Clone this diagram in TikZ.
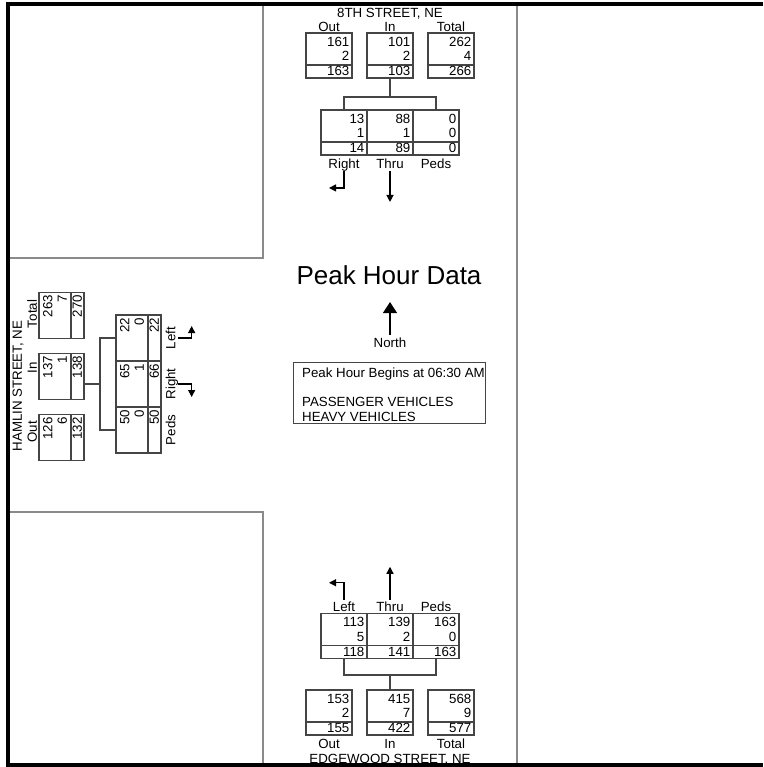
\documentclass[tikz,border=0pt]{standalone}
\usepackage{fontspec}
\setmainfont{Liberation Sans}
\usepackage{tikz}
\usetikzlibrary{arrows.meta}
\definecolor{framec}{HTML}{000000}
\definecolor{roadc}{HTML}{8A8A8A}
\definecolor{boxc}{HTML}{454545}
\newcommand{\cntfont}{\fontsize{13.3}{14.5}\selectfont}
% count box: name, x, y, angle, three values
\newcommand{\cntbox}[7]{%
  \begin{scope}[shift={(#2,#3)},rotate=#4,transform shape]
    \node[cbox] (#1) at (0,0) {};
    \draw[link] (-23,9.5) -- (23,9.5);
    \node[val] (#1a) at (20.5,-14) {#5};
    \node[val] (#1b) at (20.5,0.5) {#6};
    \node[val] (#1c) at (20.5,15.5) {#7};
  \end{scope}}
\tikzset{
  cbox/.style={draw=boxc,line width=1.2pt,minimum width=46pt,minimum height=45pt,inner sep=0pt},
  val/.style={anchor=east,inner sep=0pt,text height=9.5pt,text depth=0pt,font=\cntfont},
  lbl/.style={inner sep=0pt,text height=9.5pt,text depth=0pt,font=\cntfont},
  link/.style={draw=boxc,line width=1.2pt},
  road/.style={draw=roadc,line width=2pt},
  turn/.style={draw=black,line width=1.2pt,-{Triangle[width=7pt,length=7pt]}},
  northarrow/.style={draw=black,line width=1.3pt,-{Triangle[width=14pt,length=11pt]}}
}

\begin{document}
\begin{tikzpicture}[x=1pt,y=-1pt]
  \fill[white] (0,0) rectangle (763,767);
  \useasboundingbox (0,0) rectangle (763,767);

  % frame and roads
  \draw[framec,line width=4pt] (763,3.7) -- (8,3.7) -- (8,765) -- (763,765);
  \draw[road] (263,5.7) -- (263,258) -- (10,258);
  \draw[road] (10,512) -- (263,512) -- (263,763);
  \draw[road] (517,5.7) -- (517,763);

  % 8th street
  \node[lbl] (tName) at (390,12.5) {8TH STREET, NE};
  \node[lbl] (tOutL) at (329,27) {Out};
  \node[lbl] (tInL) at (390,27) {In};
  \node[lbl] (tTotL) at (451,27) {Total};
  \cntbox{tOut}{329}{55.5}{0}{161}{2}{163}
  \cntbox{tIn}{390}{55.5}{0}{101}{2}{103}
  \cntbox{tTot}{451}{55.5}{0}{262}{4}{266}
  \cntbox{tR}{344}{132.5}{0}{13}{1}{14}
  \cntbox{tT}{390}{132.5}{0}{88}{1}{89}
  \cntbox{tP}{436}{132.5}{0}{0}{0}{0}
  \node[lbl] (tRL) at (344,164) {Right};
  \node[lbl] (tTL) at (390,164) {Thru};
  \node[lbl] (tPL) at (436,164) {Peds};
  \coordinate (tj) at (390,97);
  \draw[link] (tIn.south) -- (tj);
  \draw[link] (tR.north) |- (tj) -| (tP.north);
  \draw[turn] ([yshift=-2pt]tRL.south) -- ++(0,17) -- ++(-15,0);
  \draw[turn] ([yshift=-2pt]tTL.south) -- ++(0,31);

  % hamlin street
  \node[lbl,rotate=90] (lName) at (17,386) {HAMLIN STREET, NE};
  \node[lbl,rotate=90] (lTotL) at (32,314) {Total};
  \node[lbl,rotate=90] (lInL) at (32,368) {In};
  \node[lbl,rotate=90] (lOutL) at (32,432) {Out};
  \cntbox{lTot}{61.5}{315.5}{90}{263}{7}{270}
  \cntbox{lIn}{61.5}{376.5}{90}{137}{1}{138}
  \cntbox{lOut}{61.5}{437.5}{90}{126}{6}{132}
  \cntbox{lL}{138.5}{338}{90}{22}{0}{22}
  \cntbox{lR}{138.5}{384}{90}{65}{1}{66}
  \cntbox{lP}{138.5}{430}{90}{50}{0}{50}
  \node[lbl,rotate=90] (lLL) at (170.7,338) {Left};
  \node[lbl,rotate=90] (lRL) at (170.7,384) {Right};
  \node[lbl,rotate=90] (lPL) at (170.7,430) {Peds};
  \coordinate (lj) at (100,384);
  \draw[link] (lIn.south |- lj) -- (lj);
  \draw[link] (lL.north) -| (lj) |- (lP.north);
  \draw[turn] ([xshift=2pt]lLL.south) -- ++(14,0) -- ++(0,-12);
  \draw[turn] ([xshift=2pt]lRL.south) -- ++(14,0) -- ++(0,13);

  % edgewood street
  \node[lbl] (bLL) at (344,606.7) {Left};
  \node[lbl] (bTL) at (390,606.7) {Thru};
  \node[lbl] (bPL) at (436,606.7) {Peds};
  \cntbox{bL}{344}{636}{0}{113}{5}{118}
  \cntbox{bT}{390}{636}{0}{139}{2}{141}
  \cntbox{bP}{436}{636}{0}{163}{0}{163}
  \cntbox{bOut}{329}{712.5}{0}{153}{2}{155}
  \cntbox{bIn}{390}{712.5}{0}{415}{7}{422}
  \cntbox{bTot}{451}{712.5}{0}{568}{9}{577}
  \node[lbl] (bOutL) at (329,743.5) {Out};
  \node[lbl] (bInL) at (390,743.5) {In};
  \node[lbl] (bTotL) at (451,743.5) {Total};
  \node[lbl] (bName) at (390,759) {EDGEWOOD STREET, NE};
  \coordinate (bj) at (390,675);
  \draw[link] (bIn.north) -- (bj);
  \draw[link] (bL.south) |- (bj) -| (bP.south);
  \draw[turn] ([yshift=2pt]bLL.north) -- ++(0,-17) -- ++(-15,0);
  \draw[turn] ([yshift=2pt]bTL.north) -- ++(0,-33);

  % centre
  \node[inner sep=0pt,text height=18.6pt,text depth=0pt,font=\fontsize{26}{30}\selectfont] (title) at (389,275) {Peak Hour Data};
  \node[lbl] (northLbl) at (390,343) {North};
  \draw[northarrow] ([yshift=3pt]northLbl.north) -- ++(0,-33);
  \node[draw=boxc,line width=1.2pt,minimum width=192pt,minimum height=61pt,inner sep=0pt,anchor=north west] (noteBox) at (293,362) {};
  \node[anchor=north west,align=left,inner sep=0pt,font=\cntfont] (noteTxt) at (302,368)
    {Peak Hour Begins at 06:30 AM\\[14.5pt]PASSENGER VEHICLES\\HEAVY VEHICLES};
\end{tikzpicture}
\end{document}
